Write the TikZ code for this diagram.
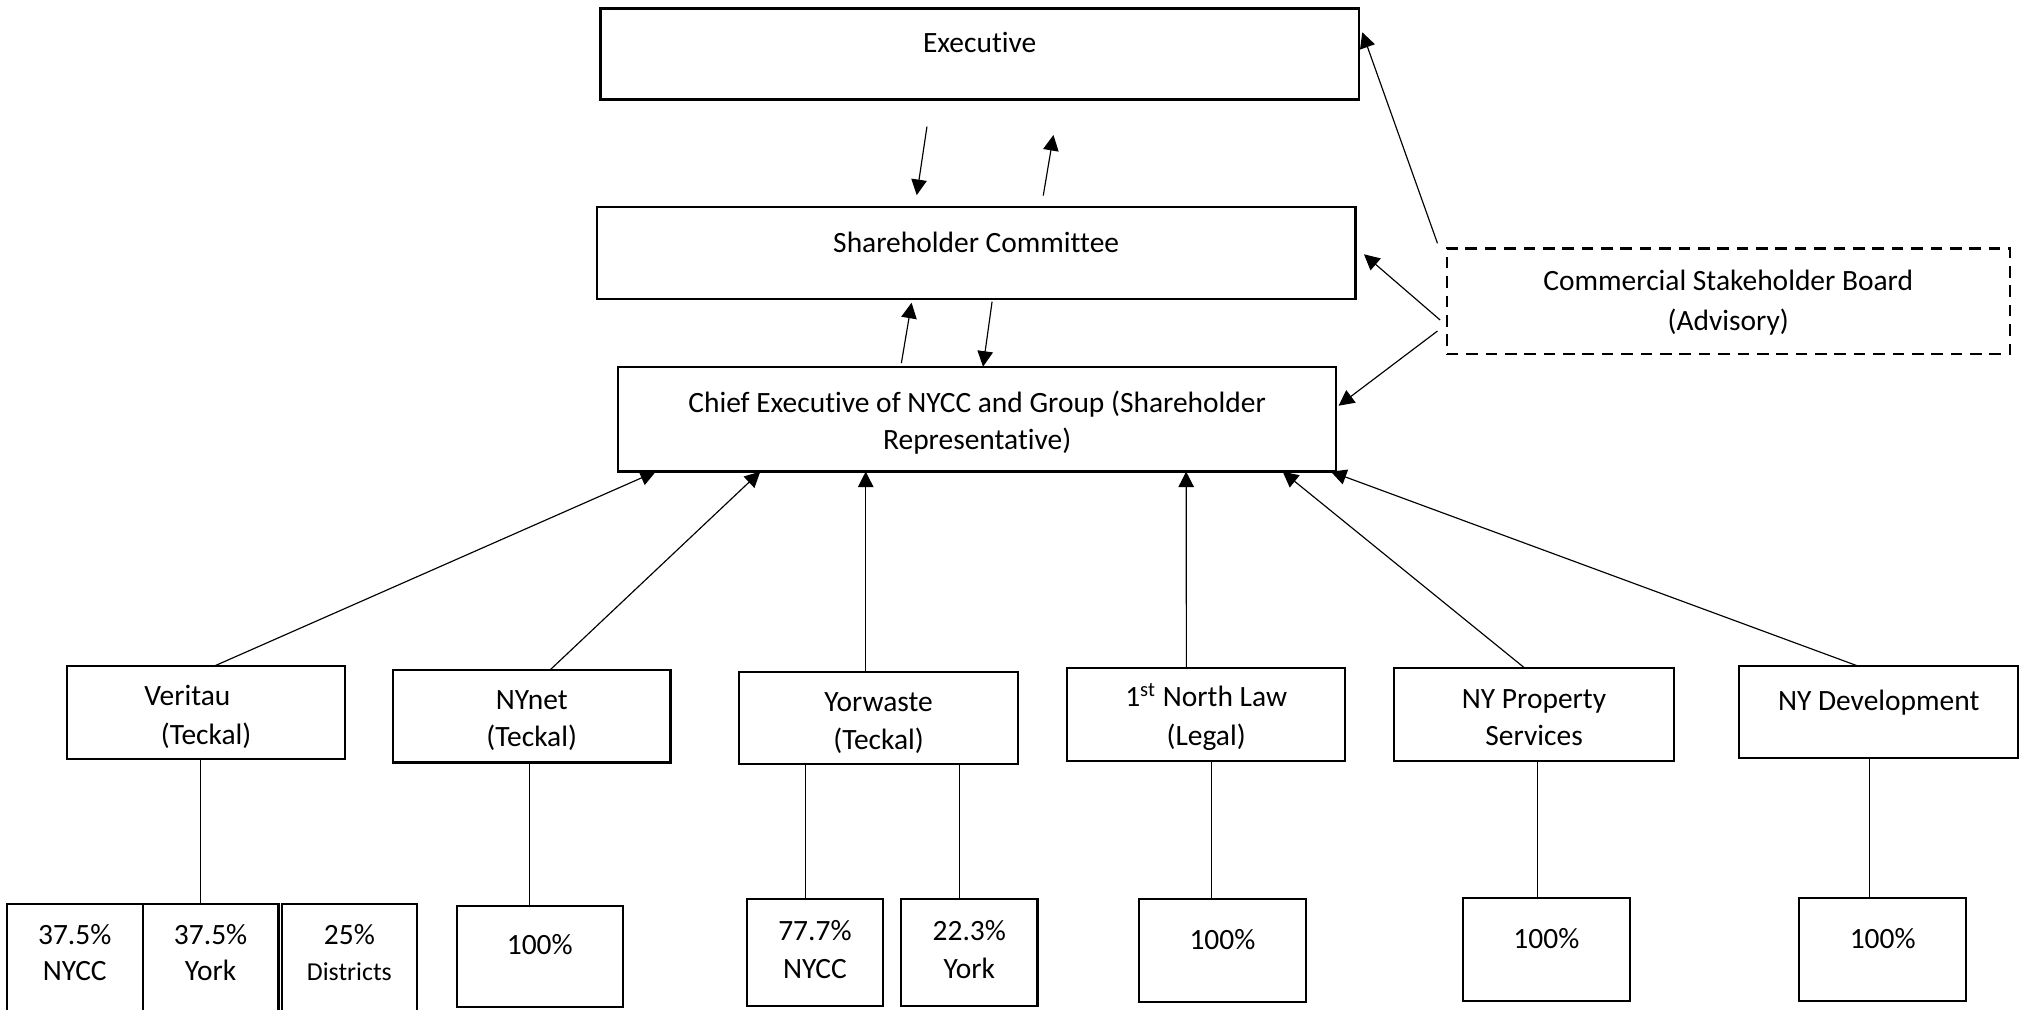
\documentclass[tikz,border=0pt]{standalone}
\usepackage{fontspec}
\setmainfont{Carlito}[Ligatures={NoCommon}]
\usetikzlibrary{arrows.meta,calc}
\newcommand\orgbox[6][]{\node[box,#1,minimum width={(#5-#3)*0.5pt},minimum height={(#6-#4)*0.5pt}] (#2) at ({(#3+#5)/2},{(#4+#6)/2}) {};}
\begin{document}
\begin{tikzpicture}[x=0.5pt,y=-0.5pt,
  box/.style={draw,line width=0.9pt,inner sep=0pt,outer sep=0pt},
  dbox/.style={dash pattern=on 4.5pt off 3pt},
  txt/.style={inner sep=0pt,anchor=base,font=\fontsize{11.4}{13}\selectfont},
  stxt/.style={txt,font=\fontsize{10}{12}\selectfont},
  conn/.style={line width=0.45pt},
  arr/.style={conn,-{Triangle[length=6pt,width=6pt]}}]
\useasboundingbox (0,0) rectangle (1568,781);
\clip (0,0) rectangle (1568,781);

% ---- top level boxes
\orgbox{exec}{464.7}{6.5}{1051.8}{76.9}
\orgbox{sc}{462}{160}{1049}{231.6}
\orgbox{ce}{478.5}{283.8}{1034}{365}
\orgbox[dbox]{csb}{1119.7}{192.2}{1555.4}{274.2}

\node[txt] (execT) at (exec |- 0,40.5) {Executive};
\node[txt] (scT) at (sc |- 0,195.3) {Shareholder Committee};
\node[txt] (ceT1) at (ce |- 0,319) {Chief Executive of NYCC and Group (Shareholder};
\node[txt] (ceT2) at (ce |- 0,347.5) {Representative)};
\node[txt] (csbT1) at (csb |- 0,224.5) {Commercial Stakeholder Board};
\node[txt] (csbT2) at (csb |- 0,256) {(Advisory)};

% ---- subsidiaries
\orgbox{ver}{52}{515.5}{267}{587.5}
\orgbox{nyn}{304}{518.5}{519}{590}
\orgbox{yor}{572}{520}{788}{591.5}
\orgbox{fnl}{826}{517}{1041}{589}
\orgbox{nyp}{1079}{517}{1295.5}{589}
\orgbox{nyd}{1346}{515.5}{1562}{586.7}

\node[txt] (verT1) at (145,546) {Veritau};
\node[txt] (verT2) at (ver |- 0,576) {(Teckal)};
\node[txt] (nynT1) at (nyn |- 0,549) {NYnet};
\node[txt] (nynT2) at (nyn |- 0,578) {(Teckal)};
\node[txt] (yorT1) at (yor |- 0,551) {Yorwaste};
\node[txt] (yorT2) at (yor |- 0,580) {(Teckal)};
\node[txt] (fnlT1) at (fnl |- 0,547) {1\textsuperscript{st} North Law};
\node[txt] (fnlT2) at (fnl |- 0,577) {(Legal)};
\node[txt] (nypT1) at (nyp |- 0,548) {NY Property};
\node[txt] (nypT2) at (nyp |- 0,576.6) {Services};
\node[txt] (nydT1) at (nyd |- 0,550) {NY Development};

% ---- shareholding boxes
\orgbox{vb1}{5.2}{699.7}{110.5}{795}
\orgbox{vb2}{110.5}{699.7}{215.5}{795}
\orgbox{vb3}{218}{699.7}{322.8}{795}
\orgbox{nb}{353.5}{701}{482}{779.5}
\orgbox{yb1}{578}{696}{683.4}{778.7}
\orgbox{yb2}{697.3}{696}{803}{778.7}
\orgbox{fb}{881.6}{696}{1010.6}{775.5}
\orgbox{pb}{1132}{695}{1261.6}{774.7}
\orgbox{db}{1392.5}{695}{1521.7}{774.7}

\node[txt] (vb1T1) at (vb1 |- 0,730.6) {37.5\%};
\node[txt] (vb1T2) at (vb1 |- 0,759) {NYCC};
\node[txt] (vb2T1) at (vb2 |- 0,730.6) {37.5\%};
\node[txt] (vb2T2) at (vb2 |- 0,759) {York};
\node[txt] (vb3T1) at (vb3 |- 0,730.6) {25\%};
\node[stxt] (vb3T2) at (vb3 |- 0,759) {Districts};
\node[txt] (nbT) at (nb |- 0,738.4) {100\%};
\node[txt] (yb1T1) at (yb1 |- 0,727.5) {77.7\%};
\node[txt] (yb1T2) at (yb1 |- 0,757) {NYCC};
\node[txt] (yb2T1) at (yb2 |- 0,727.5) {22.3\%};
\node[txt] (yb2T2) at (yb2 |- 0,757) {York};
\node[txt] (fbT) at (fb |- 0,734.6) {100\%};
\node[txt] (pbT) at (pb |- 0,734) {100\%};
\node[txt] (dbT) at (db |- 0,734) {100\%};

% ---- arrows between top boxes
\coordinate (e2sA) at (717.4,98);
\coordinate (e2sB) at (709.5,151);
\coordinate (s2eA) at (807.4,151.4);
\coordinate (s2eB) at (815.3,104.5);
\coordinate (c2sA) at (697.6,281);
\coordinate (c2sB) at (705.5,234.3);
\coordinate (s2cA) at (767.8,233.5);
\draw[arr] (e2sA) -- (e2sB);
\draw[arr] (s2eA) -- (s2eB);
\draw[arr] (c2sA) -- (c2sB);
\draw[arr] (s2cA) -- (760.8,0 |- ce.north);

% ---- advisory arrows
\coordinate (csbA) at ($(csb.north west)+(-7.2,-3.9)$);
\coordinate (csbB) at ($(csb.north west)+(-5.1,55.5)$);
\coordinate (csbC) at ($(csb.north west)+(-7.2,64)$);
\draw[arr] (csbA) -- ($(exec.north east)+(2.5,18.5)$);
\draw[arr] (csbB) -- ($(sc.north east)+(6.6,36.8)$);
\draw[arr] (csbC) -- ($(ce.north east)+(2,30.2)$);

% ---- subsidiary arrows to chief executive
\draw[arr] (165.8,0 |- ver.north) -- (507.5,0 |- ce.south);
\draw[arr] (425.7,0 |- nyn.north) -- (588.4,0 |- ce.south);
\draw[arr] (670,0 |- yor.north) -- (670,0 |- ce.south);
\draw[arr] (918.2,0 |- fnl.north) -- (918,0 |- ce.south);
\draw[arr] (1180,0 |- nyp.north) -- (992.7,0 |- ce.south);
\draw[arr] (1438,0 |- nyd.north) -- (1030,0 |- ce.south);

% ---- ownership lines
\draw[conn] (155.3,0 |- ver.south) -- (155.3,0 |- vb2.north);
\draw[conn] (409.7,0 |- nyn.south) -- (409.7,0 |- nb.north);
\draw[conn] (623.3,0 |- yor.south) -- (623.3,0 |- yb1.north);
\draw[conn] (742.5,0 |- yor.south) -- (742.5,0 |- yb2.north);
\draw[conn] (937.7,0 |- fnl.south) -- (937.7,0 |- fb.north);
\draw[conn] (1190,0 |- nyp.south) -- (1190,0 |- pb.north);
\draw[conn] (1447,0 |- nyd.south) -- (1447,0 |- db.north);
\end{tikzpicture}
\end{document}
